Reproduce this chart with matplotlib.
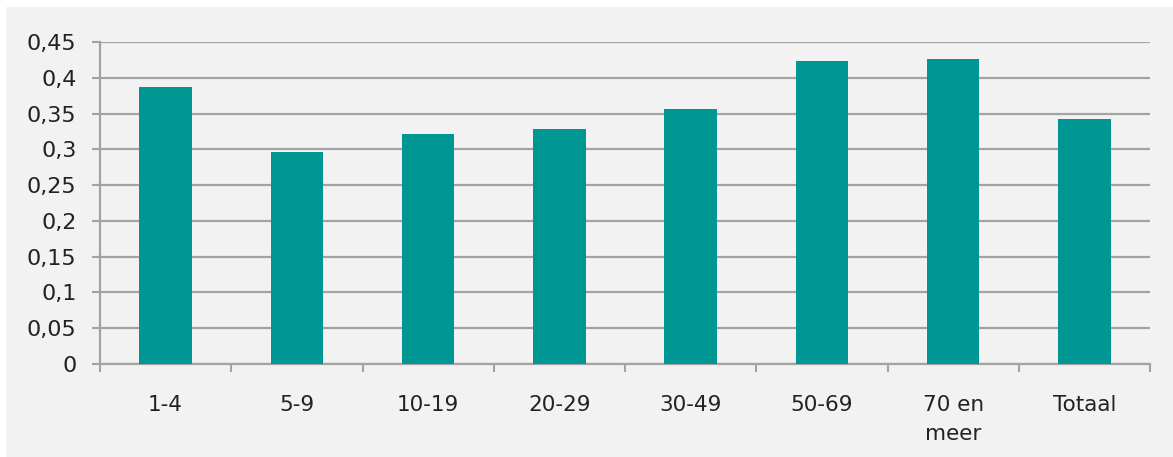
import matplotlib
matplotlib.use("Agg")
import matplotlib.pyplot as plt
from matplotlib.patches import Rectangle
from matplotlib.ticker import FuncFormatter, MultipleLocator

categories = ["1-4", "5-9", "10-19", "20-29", "30-49", "50-69", "70 en\nmeer", "Totaal"]
values = [0.387, 0.296, 0.322, 0.329, 0.357, 0.424, 0.426, 0.342]

W, H = 1173, 457
fig = plt.figure(figsize=(W / 100, H / 100), dpi=100)
fig.patch.set_facecolor("white")
fig.patches.append(Rectangle((6 / W, 0), 1 - 6 / W, 1 - 7 / H, transform=fig.transFigure,
                             facecolor="#f2f2f2", edgecolor="none", zorder=-10))

ax = fig.add_axes([100 / W, 1 - 364 / H, (1150 - 100) / W, (364 - 42) / H])
ax.set_zorder(5)
ax.set_facecolor("none")
x = range(len(categories))
ax.bar(x, values, width=0.4, color="#009693", zorder=3)
ax.set_xlim(-0.5, len(categories) - 0.5)
ax.set_ylim(0, 0.45)
ax.yaxis.set_major_locator(MultipleLocator(0.05))
ax.yaxis.set_major_formatter(FuncFormatter(lambda v, p: ("%g" % round(v, 2)).replace(".", ",")))
ax.grid(axis="y", color="#a3a3a3", linewidth=1.6, zorder=1)
ax.set_axisbelow(True)
ax.set_xticks(list(x))
ax.set_xticklabels(categories, fontsize=15.5, family="DejaVu Sans", color="#222222", linespacing=1.6)
ax.set_xticks([i - 0.5 for i in range(len(categories) + 1)], minor=True)
ax.tick_params(axis="x", which="major", length=0, pad=22)
ax.tick_params(axis="x", which="minor", length=6, width=1.5, color="#a3a3a3")
ax.tick_params(axis="y", length=6, width=1.5, color="#a3a3a3", labelsize=16, labelcolor="#222222", pad=11)
for s in ["top", "right"]:
    ax.spines[s].set_visible(False)
for s in ["left", "bottom"]:
    ax.spines[s].set_color("#a3a3a3")
    ax.spines[s].set_linewidth(1.6)

fig.savefig("out.png", dpi=100, facecolor=fig.get_facecolor())
